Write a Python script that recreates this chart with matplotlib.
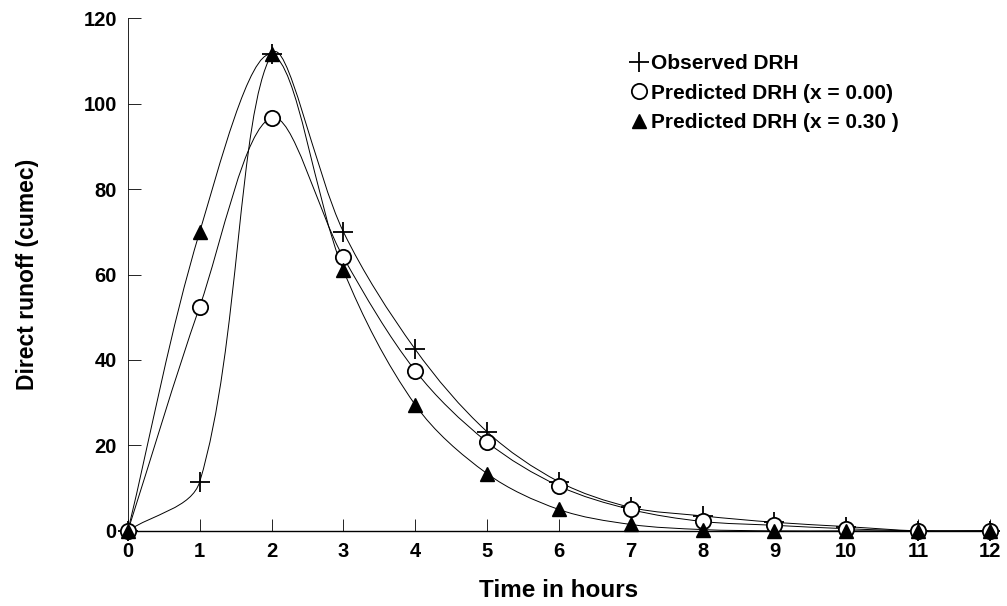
import matplotlib
matplotlib.use("Agg")
import math
import matplotlib.pyplot as plt
from matplotlib.path import Path
from matplotlib.patches import PathPatch
from matplotlib.lines import Line2D

plt.rcParams["font.family"] = ["Liberation Sans", "DejaVu Sans"]
plt.rcParams["font.weight"] = "bold"

# time in hours
hours = [0, 1, 2, 3, 4, 5, 6, 7, 8, 9, 10, 11, 12]
# direct runoff (cumec)
observed = [0, 11.5, 111.5, 70, 42.5, 23.2, 11.5, 5.5, 3.5, 2.0, 1.0, 0, 0]
pred_000 = [0, 52.5, 96.7, 64, 37.5, 20.8, 10.5, 5.0, 2.2, 1.3, 0.5, 0, 0]
pred_030 = [0, 70, 111.5, 61, 29.5, 13.4, 5.0, 1.5, 0.3, 0, 0, 0, 0]

legend_labels = ["Observed DRH", "Predicted DRH (x = 0.00)", "Predicted DRH (x = 0.30 )"]

# rough pixel size of one data unit, used only to shape the smoothing
SX, SY = 71.8, 4.27


def smooth_path(xs, ys):
    # spreadsheet-like smoothing: Catmull-Rom tangents, split in proportion
    # to the neighbouring segment lengths (measured in screen proportions)
    n = len(xs)
    px = [x * SX for x in xs]
    py = [y * SY for y in ys]

    def dist(a, b):
        if a < 0 or b > n - 1:
            return 0.0
        return math.hypot(px[b] - px[a], py[b] - py[a])

    def tangent(i):
        a, b = max(i - 1, 0), min(i + 1, n - 1)
        return px[b] - px[a], py[b] - py[a]

    verts = [(xs[0], ys[0])]
    codes = [Path.MOVETO]
    for i in range(n - 1):
        d = dist(i, i + 1)
        t1, t2 = tangent(i), tangent(i + 1)
        f1 = d / ((dist(i - 1, i) + d) or 1.0) / 3
        f2 = d / ((d + dist(i + 1, i + 2)) or 1.0) / 3
        c1 = (px[i] + t1[0] * f1, py[i] + t1[1] * f1)
        c2 = (px[i + 1] - t2[0] * f2, py[i + 1] - t2[1] * f2)
        verts += [(c1[0] / SX, c1[1] / SY), (c2[0] / SX, c2[1] / SY), (xs[i + 1], ys[i + 1])]
        codes += [Path.CURVE4] * 3
    return Path(verts, codes)


fig = plt.figure(figsize=(10.07, 6.06), dpi=100)
ax = fig.add_axes([0.127, 0.124, 0.856, 0.846])

for ys in (observed, pred_000, pred_030):
    ax.add_patch(PathPatch(smooth_path(hours, ys), fill=False, lw=0.7,
                           edgecolor="black", zorder=2))

ax.plot(hours, observed, ls="none", marker="+", ms=15, mew=1.3, color="black", zorder=3)
ax.plot(hours, pred_000, ls="none", marker="o", ms=11, mew=1.3, mfc="white",
        mec="black", zorder=4)
ax.plot(hours, pred_030, ls="none", marker="^", ms=10, color="black", zorder=5)

ax.set_xlim(0, 12)
ax.set_ylim(0, 120)
ax.set_xticks(hours)
ax.set_yticks(range(0, 121, 20))
ax.tick_params(direction="in", length=9, width=0.6, labelsize=14.5)
ax.tick_params(axis="x", pad=8)
ax.tick_params(axis="y", pad=8)
for lab in ax.get_xticklabels() + ax.get_yticklabels():
    lab.set_fontweight("bold")
ax.spines["top"].set_visible(False)
ax.spines["right"].set_visible(False)
ax.spines["left"].set_linewidth(0.6)
ax.spines["bottom"].set_linewidth(1.0)
for art in ax.lines + ax.patches:
    art.set_clip_on(False)

ax.set_xlabel("Time in hours", fontsize=17.5, fontweight="bold", labelpad=13)
ax.set_ylabel("Direct runoff (cumec)", fontsize=16.5, fontweight="bold", labelpad=32)

handles = [
    Line2D([], [], ls="none", marker="+", ms=15, mew=1.3, color="black"),
    Line2D([], [], ls="none", marker="o", ms=11, mew=1.3, mfc="white", mec="black"),
    Line2D([], [], ls="none", marker="^", ms=10, color="black"),
]
ax.legend(handles, legend_labels, loc="upper left", bbox_to_anchor=(0.562, 0.966),
          frameon=False, handlelength=0.8, handletextpad=0.15, labelspacing=0.5,
          prop={"size": 15, "weight": "bold"})

fig.savefig("out.png", dpi=100, facecolor="white")
